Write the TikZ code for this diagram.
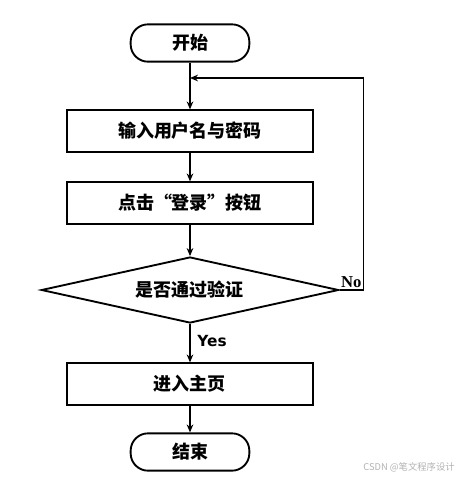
\documentclass[tikz,border=0pt]{standalone}
\usepackage{fontspec}
\usepackage{tikz}
\usetikzlibrary{shapes.geometric,arrows.meta}
\newfontfamily\cjk{Noto Sans CJK SC}
\newfontfamily\yesfont{DejaVu Sans}
\setmainfont{Liberation Serif}

\tikzset{
  term/.style={draw,line width=1.4pt,rounded corners=13pt,minimum width=89pt,minimum height=28pt,font=\cjk\bfseries\fontsize{13.5}{15}\selectfont},
  proc/.style={draw,line width=1.4pt,minimum width=184.5pt,minimum height=31pt,font=\cjk\bfseries\fontsize{13.5}{15}\selectfont},
  decide/.style={draw,diamond,aspect=4.5,line width=1.4pt,inner sep=0pt,minimum width=223pt,minimum height=49.5pt,font=\cjk\bfseries\fontsize{13.5}{15}\selectfont},
  flow/.style={line width=1.2pt,-{Stealth[length=6pt,width=5pt]}},
  tag/.style={font=\bfseries\fontsize{12.5}{14}\selectfont,inner sep=1pt},
}

\begin{document}
\begin{tikzpicture}[x=0.75pt,y=-0.75pt]
\useasboundingbox (0,0) rectangle (461,480);

\node[term] (start) at (190,43) {开始};
\node[proc] (input) at (190,131) {输入用户名与密码};
\node[proc] (click) at (190,203) {点击“登录”按钮};
\node[decide] (check) at (190,290) {是否通过验证};
\node[proc] (home) at (190,384) {进入主页};
\node[term] (stop) at (190,452) {结束};

\coordinate (back) at (190,78);

\draw[line width=1.2pt] (start) -- (back);
\draw[flow] (back) -- (input);
\draw[flow] (input) -- (click);
\draw[flow] (click) -- (check);
\draw[flow] (check) -- node[tag,pos=0.45,right=4pt,font=\yesfont\bfseries\fontsize{11.5}{13}\selectfont] {Yes} (home);
\draw[flow] (home) -- (stop);
\draw[flow] (check.east) -- ++(24,0) node[tag,above left] {No} |- (back);

% watermark
\node[gray!60,font=\cjk\fontsize{7}{8}\selectfont] (mark) at (409,467) {CSDN @笔文程序设计};
\end{tikzpicture}
\end{document}
